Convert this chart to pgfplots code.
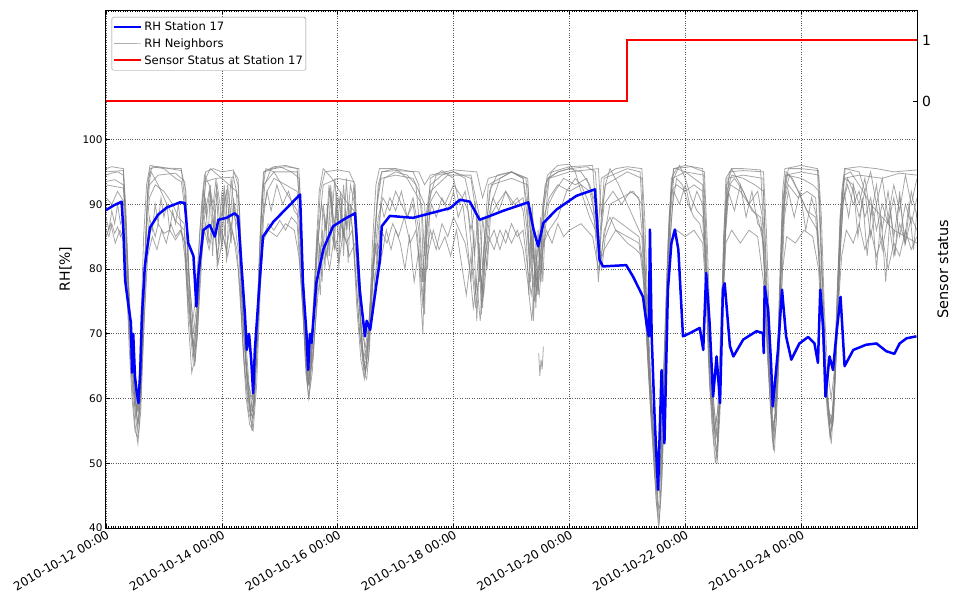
\documentclass[border=0pt]{standalone}
\usepackage{fontspec}
\setmainfont{DejaVu Sans}
\usepackage{pgfplots}
\pgfplotsset{compat=1.18}
\definecolor{nbgray}{RGB}{128,128,128}
\pgfplotsset{neighbor/.style={color=nbgray, draw opacity=0.7, line width=0.8bp, forget plot}}
\begin{document}
\begin{tikzpicture}
\useasboundingbox (-106bp,-71bp) rectangle (848bp,528bp);
\begin{axis}[
 scale only axis, width=811bp, height=518bp,
 xmin=0, xmax=14, ymin=40, ymax=120,
 xtick={0,2,4,6,8,10,12},
 xticklabels={2010-10-12 00:00,2010-10-14 00:00,2010-10-16 00:00,2010-10-18 00:00,2010-10-20 00:00,2010-10-22 00:00,2010-10-24 00:00},
 minor xtick={0,0.0416667,...,14},
 ytick={40,50,60,70,80,90,100},
 ytick pos=left,
 tick align=inside,
 major tick length=4bp, minor tick length=2bp,
 tick style={black, line width=0.6bp},
 axis line style={line width=1bp},
 grid=major, grid style={dotted, black!65, line width=0.6bp},
 xticklabel style={rotate=30, anchor=north east, font=\fontsize{12}{14}\selectfont, inner sep=1bp},
 yticklabel style={font=\fontsize{10.5}{12}\selectfont},
 /pgf/number format/assume math mode=true,
 ylabel={RH[\%]},
 ylabel style={at={(axis description cs:-0.05,0.5)}, anchor=center, font=\fontsize{14}{16}\selectfont},
 legend image code/.code={\draw[#1] (0bp,0bp) -- (23bp,0bp); \path (0bp,0bp) -- (27bp,0bp);},
 legend style={at={(axis description cs:0.007,0.9865)}, anchor=north west, draw=black!45, font=\fontsize{11.6}{14}\selectfont, inner xsep=0.5bp, inner ysep=1.5bp, rounded corners=1.5bp, nodes={inner ysep=3.2bp, inner xsep=2.5bp}},
 legend cell align=left,
]
% Neighbor A
\addplot[neighbor] coordinates {(0,94.5) (0.1,94.8) (0.2,95) (0.3,94.5) (0.35,85) (0.4,72) (0.45,62) (0.5,56) (0.55,53) (0.58,56) (0.62,66) (0.67,80) (0.72,92) (0.76,95.5) (0.9,95.8) (1.1,95.5) (1.3,95.2) (1.38,92) (1.43,80) (1.48,70) (1.53,65) (1.58,70) (1.63,82) (1.68,92) (1.72,95) (1.85,95.5) (2.0,95) (2.2,95.3) (2.28,93) (2.33,82) (2.38,70) (2.45,62) (2.52,55) (2.57,60) (2.63,75) (2.68,90) (2.72,95) (2.9,95.8) (3.1,96) (3.3,95.5) (3.36,88) (3.4,75) (3.45,64) (3.5,60) (3.55,66) (3.62,80) (3.7,92) (3.78,95) (4.0,95.3) (4.2,95) (4.3,93) (4.35,82) (4.4,72) (4.45,64) (4.5,63) (4.55,68) (4.62,82) (4.7,93) (4.76,95) (5.0,95.2) (5.4,95) (5.5,93) (5.6,94.5) (6.0,95.3) (6.4,95) (6.5,91) (6.6,94) (7.0,95) (7.25,94) (7.3,88) (7.4,80) (7.5,85) (7.58,93) (7.7,95) (8.0,95.8) (8.4,96) (8.45,90) (8.5,82) (8.55,88) (8.6,94) (9.0,95.5) (9.22,95) (9.28,85) (9.35,70) (9.42,58) (9.5,44) (9.54,40) (9.58,45) (9.64,60) (9.7,80) (9.76,93) (9.8,95.5) (10.0,96) (10.3,95.5) (10.35,85) (10.4,70) (10.48,58) (10.55,50) (10.6,58) (10.65,80) (10.7,94) (10.8,95.5) (11.0,95.5) (11.3,95.3) (11.36,85) (11.42,70) (11.48,58) (11.52,52) (11.57,60) (11.63,78) (11.68,92) (11.72,95.5) (12.0,96) (12.28,95.5) (12.33,85) (12.4,68) (12.47,58) (12.52,53) (12.57,60) (12.63,78) (12.7,92) (12.75,95.5) (13.0,95.8) (13.3,95.5) (13.6,95) (14.0,95.3)};
% Neighbor B
\addplot[neighbor] coordinates {(0,93.5) (0.15,93.8) (0.3,93) (0.34,88) (0.38,78) (0.44,68) (0.5,60) (0.55,58) (0.6,62) (0.65,75) (0.7,88) (0.75,93) (0.9,94.5) (1.2,94.8) (1.36,93.5) (1.4,85) (1.45,74) (1.52,68) (1.57,72) (1.62,80) (1.67,88) (1.72,93.5) (1.9,94) (2.2,94.2) (2.3,90) (2.35,78) (2.42,66) (2.5,58) (2.55,62) (2.6,70) (2.66,85) (2.72,93) (2.9,95) (3.3,95) (3.34,90) (3.4,80) (3.46,68) (3.52,64) (3.58,72) (3.65,84) (3.75,93) (4.0,94) (4.28,93.5) (4.33,86) (4.4,76) (4.48,66) (4.53,70) (4.6,78) (4.68,90) (4.75,94) (5.0,94.5) (5.3,94) (5.5,90) (5.55,80) (5.6,92) (5.9,94.5) (6.3,94.5) (6.45,88) (6.5,80) (6.55,86) (6.65,93) (7.0,94) (7.28,93) (7.35,85) (7.42,78) (7.5,82) (7.56,90) (7.65,94) (8.0,95) (8.5,95.5) (8.55,88) (8.62,93) (9.0,95) (9.25,94) (9.3,82) (9.38,66) (9.45,55) (9.5,48) (9.55,46) (9.6,52) (9.66,70) (9.72,88) (9.78,94) (10.0,95) (10.32,94.5) (10.37,82) (10.43,66) (10.5,56) (10.55,54) (10.6,62) (10.66,85) (10.72,94) (11.0,94.5) (11.34,94) (11.4,80) (11.46,64) (11.52,55) (11.56,58) (11.62,72) (11.68,90) (11.73,94.5) (12.0,95) (12.3,94.5) (12.36,80) (12.42,65) (12.5,56) (12.55,58) (12.6,70) (12.67,88) (12.74,94) (13.0,94.5) (13.4,94) (13.7,94.8) (14.0,94.5)};
% Neighbor C
\addplot[neighbor] coordinates {(0,86) (0.05,85) (0.1,87) (0.15,85.5) (0.2,86.5) (0.25,85) (0.3,86) (0.34,80) (0.4,70) (0.46,62) (0.52,57) (0.56,60) (0.62,70) (0.68,80) (0.73,85) (0.8,86.5) (0.85,85) (0.9,87) (1.0,85.5) (1.1,86) (1.2,84.5) (1.3,86) (1.36,82) (1.42,74) (1.5,66) (1.55,70) (1.6,78) (1.66,84) (1.72,87) (1.78,84) (1.85,88) (1.92,82) (2.0,86) (2.08,83) (2.15,87) (2.22,84) (2.28,80) (2.34,72) (2.4,64) (2.48,58) (2.54,57) (2.6,66) (2.66,78) (2.72,85) (2.8,87) (2.9,86) (3.0,87.5) (3.1,86) (3.2,88) (3.3,87) (3.35,80) (3.42,70) (3.48,62) (3.54,65) (3.6,74) (3.66,80) (3.72,84) (3.8,82) (3.88,86) (3.95,83) (4.05,87) (4.15,84) (4.25,86) (4.32,78) (4.38,70) (4.44,66) (4.5,68) (4.56,72) (4.62,76) (4.68,82) (4.75,86) (4.85,84) (4.95,87) (5.05,85) (5.15,88) (5.25,84) (5.35,86) (5.42,80) (5.47,74) (5.52,82) (5.6,86) (5.7,83) (5.8,87) (5.9,85) (6.0,88) (6.1,86) (6.2,84) (6.28,80) (6.34,74) (6.4,78) (6.46,72) (6.52,80) (6.6,85) (6.7,83) (6.8,86) (6.9,84) (7.0,87) (7.1,85) (7.2,86) (7.28,80) (7.34,76) (7.4,80) (7.46,77) (7.52,82) (7.6,86) (7.7,84) (7.8,87) (7.9,85) (8.0,86) (8.2,87) (8.4,85) (8.5,80) (8.6,83) (8.8,86) (9.0,85) (9.2,84) (9.28,78) (9.35,66) (9.42,56) (9.5,50) (9.56,52) (9.62,62) (9.7,76) (9.76,84) (9.85,86) (10.0,85) (10.15,86) (10.3,84) (10.36,76) (10.44,62) (10.52,54) (10.58,58) (10.64,72) (10.7,84) (10.8,86) (10.95,84) (11.1,86) (11.25,85) (11.35,78) (11.42,66) (11.5,56) (11.55,57) (11.62,68) (11.68,80) (11.75,85) (11.9,84) (12.05,86) (12.2,85) (12.3,80) (12.38,68) (12.45,60) (12.52,56) (12.58,62) (12.64,74) (12.7,82) (12.78,86) (12.9,84) (13.0,87) (13.1,83) (13.2,86) (13.3,82) (13.4,85) (13.5,80) (13.6,84) (13.7,82) (13.8,86) (13.9,83) (14.0,85)};
% Neighbor D
\addplot[neighbor] coordinates {(0,91) (0.1,90) (0.2,92) (0.3,90.5) (0.34,84) (0.4,74) (0.46,64) (0.5,58) (0.54,55) (0.58,58) (0.64,72) (0.7,86) (0.75,91) (0.85,93) (1.0,92) (1.15,90) (1.25,88) (1.35,87) (1.4,80) (1.46,72) (1.52,67) (1.57,69) (1.63,78) (1.7,88) (1.78,92) (1.85,89) (1.92,93) (2.0,88) (2.08,92) (2.15,86) (2.22,90) (2.3,85) (2.36,74) (2.44,62) (2.5,57) (2.56,60) (2.62,72) (2.7,88) (2.78,92) (2.9,94) (3.1,93) (3.3,92) (3.36,84) (3.42,72) (3.48,63) (3.53,66) (3.6,76) (3.66,84) (3.72,90) (3.8,86) (3.86,92) (3.94,87) (4.02,91) (4.1,85) (4.18,90) (4.26,86) (4.32,78) (4.38,70) (4.44,65) (4.5,66) (4.56,74) (4.62,80) (4.7,88) (4.78,91) (4.9,89) (5.0,92) (5.1,90) (5.2,88) (5.3,91) (5.4,86) (5.46,78) (5.5,84) (5.58,90) (5.7,92) (5.85,90) (6.0,93) (6.15,91) (6.25,89) (6.32,82) (6.38,76) (6.44,84) (6.5,74) (6.55,82) (6.62,88) (6.75,90) (6.9,92) (7.05,90) (7.2,91) (7.27,86) (7.33,78) (7.38,84) (7.44,76) (7.5,82) (7.56,88) (7.65,91) (7.8,93) (8.0,92) (8.2,93) (8.35,92) (8.45,88) (8.52,80) (8.58,84) (8.7,90) (8.9,91) (9.1,92) (9.25,90) (9.3,80) (9.38,64) (9.46,52) (9.52,47) (9.58,50) (9.64,66) (9.7,82) (9.76,92) (9.85,93) (10.0,92) (10.15,93) (10.3,92) (10.35,80) (10.42,64) (10.5,55) (10.56,58) (10.63,76) (10.7,90) (10.78,93) (10.95,92) (11.1,90) (11.25,92) (11.33,88) (11.4,72) (11.47,60) (11.52,54) (11.58,62) (11.64,78) (11.7,90) (11.78,93) (11.95,91) (12.1,92) (12.25,91) (12.32,82) (12.4,66) (12.48,57) (12.54,56) (12.6,66) (12.66,80) (12.72,90) (12.8,93) (12.9,90) (13.0,92) (13.1,88) (13.2,91) (13.3,86) (13.4,90) (13.5,87) (13.6,91) (13.7,85) (13.8,90) (13.9,87) (14.0,91)};
% Neighbor E
\addplot[neighbor] coordinates {(0,93) (0.3,92.5) (0.35,85) (0.42,70) (0.5,60) (0.55,56) (0.6,62) (0.66,78) (0.72,92) (0.78,95) (0.9,93) (1.05,90) (1.2,87.5) (1.35,86) (1.4,78) (1.47,70) (1.54,66) (1.6,74) (1.66,86) (1.72,94) (1.8,95.5) (2.0,94) (2.25,92) (2.3,84) (2.36,72) (2.44,63) (2.52,60) (2.58,64) (2.64,80) (2.7,92) (2.76,95.5) (2.9,95) (3.1,92) (3.3,89) (3.35,82) (3.42,70) (3.5,62) (3.56,68) (3.62,82) (3.68,92) (3.75,95.5) (3.9,94) (4.1,91) (4.28,89) (4.34,80) (4.42,68) (4.48,64) (4.54,70) (4.6,84) (4.66,93) (4.72,95.5) (5.0,95.5) (5.2,94) (5.45,90) (5.5,82) (5.56,90) (5.7,94.5) (6.0,95) (6.3,94) (6.4,88) (6.48,77) (6.54,86) (6.6,93) (7.0,95) (7.28,94) (7.33,84) (7.4,75) (7.47,80) (7.54,90) (7.62,94.5) (7.8,96) (8.0,96.2) (8.1,95) (8.2,92) (8.35,88) (8.45,86) (8.52,82) (8.56,88) (8.62,93) (8.7,95.5) (8.85,93) (9.0,90) (9.15,87) (9.25,85) (9.3,76) (9.38,62) (9.45,54) (9.52,44) (9.56,43) (9.62,55) (9.68,72) (9.74,88) (9.8,94) (9.9,96) (10.0,94) (10.1,91) (10.2,89) (10.3,88) (10.35,78) (10.42,62) (10.5,53) (10.55,51) (10.6,60) (10.66,80) (10.72,93) (10.8,95.5) (10.95,93) (11.1,90) (11.25,88) (11.35,84) (11.4,72) (11.46,60) (11.52,53) (11.57,56) (11.63,72) (11.68,88) (11.74,95) (11.85,94) (12.0,91) (12.15,88) (12.28,86) (12.34,76) (12.42,62) (12.5,54) (12.56,57) (12.62,70) (12.68,86) (12.74,94.5) (12.85,95) (13.0,93) (13.2,90) (13.4,88) (13.6,86) (13.8,85) (14.0,84)};
% Neighbor F
\addplot[neighbor] coordinates {(0,95) (0.3,95.2) (0.34,90) (0.38,80) (0.43,70) (0.48,64) (0.53,58) (0.57,62) (0.61,74) (0.65,85) (0.7,93) (0.76,96) (1.0,95.6) (1.3,95.5) (1.37,90) (1.42,80) (1.47,75) (1.51,70) (1.56,74) (1.6,82) (1.65,90) (1.7,94.5) (1.78,93) (1.85,90) (1.9,94) (1.95,84) (2.0,92) (2.05,85) (2.1,93) (2.15,88) (2.2,95) (2.28,94) (2.32,86) (2.37,76) (2.42,68) (2.47,62) (2.53,58) (2.58,66) (2.63,78) (2.68,88) (2.73,95) (2.9,95.5) (3.1,95.8) (3.33,95.5) (3.37,86) (3.42,76) (3.46,66) (3.5,62) (3.55,70) (3.6,78) (3.65,86) (3.7,82) (3.75,90) (3.8,86) (3.85,93) (3.9,88) (3.95,94) (4.0,87) (4.05,92) (4.1,85) (4.15,94) (4.2,86) (4.28,93) (4.33,84) (4.38,74) (4.43,68) (4.48,64) (4.53,70) (4.58,78) (4.64,86) (4.7,92) (4.76,95) (5.0,95.5) (5.3,95) (5.4,93) (5.45,88) (5.5,73) (5.53,85) (5.6,94) (5.8,95.2) (6.0,94) (6.1,90) (6.2,92) (6.3,86) (6.38,90) (6.45,78) (6.5,88) (6.55,84) (6.62,92) (6.75,94.5) (7.0,95) (7.2,94) (7.27,88) (7.32,80) (7.37,86) (7.42,74) (7.47,84) (7.52,80) (7.58,88) (7.65,94) (7.8,95) (8.0,95.5) (8.3,95.8) (8.45,95) (8.5,86) (8.55,94) (8.8,95.5) (9.0,95.8) (9.25,95.5) (9.3,88) (9.36,72) (9.42,60) (9.48,50) (9.53,42) (9.57,48) (9.62,62) (9.68,78) (9.74,90) (9.8,95.5) (10.1,95.8) (10.33,95) (10.38,84) (10.44,68) (10.5,58) (10.56,53) (10.6,62) (10.65,76) (10.7,88) (10.76,95) (11.0,95.2) (11.35,95) (11.4,86) (11.45,72) (11.5,62) (11.55,58) (11.6,64) (11.66,80) (11.72,92) (11.78,95.5) (12.0,95.5) (12.3,95.2) (12.35,88) (12.4,74) (12.46,64) (12.52,60) (12.57,64) (12.63,78) (12.7,90) (12.76,95.5) (13.0,95) (13.1,92) (13.2,95) (13.3,90) (13.4,94) (13.5,88) (13.6,93) (13.7,89) (13.8,94.5) (13.9,90) (14.0,94)};
% Neighbor G
\addplot[neighbor] coordinates {(0,85) (0.08,87) (0.16,84) (0.24,86) (0.32,84) (0.37,76) (0.44,66) (0.5,60) (0.55,56) (0.6,60) (0.66,72) (0.72,82) (0.8,85) (0.88,83) (0.96,86) (1.04,84) (1.12,87) (1.2,85) (1.28,86) (1.36,84) (1.42,76) (1.5,68) (1.56,72) (1.62,80) (1.7,86) (1.78,83) (1.86,87) (1.94,81) (2.02,85) (2.1,82) (2.18,86) (2.26,83) (2.32,76) (2.38,66) (2.46,58) (2.52,56) (2.58,64) (2.64,76) (2.7,84) (2.8,86) (2.95,85) (3.1,87) (3.25,86) (3.33,82) (3.4,74) (3.46,65) (3.52,62) (3.58,68) (3.64,74) (3.7,80) (3.78,84) (3.86,80) (3.94,85) (4.02,81) (4.1,86) (4.2,82) (4.3,84) (4.36,76) (4.42,70) (4.48,68) (4.54,72) (4.6,80) (4.68,84) (4.76,82) (4.84,86) (4.92,83) (5.0,86) (5.08,84) (5.16,80) (5.24,85) (5.32,78) (5.4,83) (5.48,75) (5.55,82) (5.65,86) (5.75,83) (5.85,85) (5.95,82) (6.05,86) (6.15,80) (6.22,76) (6.3,82) (6.38,74) (6.45,80) (6.52,76) (6.6,84) (6.7,86) (6.8,83) (6.9,86) (7.0,84) (7.1,86) (7.2,83) (7.28,78) (7.35,72) (7.42,80) (7.48,76) (7.55,84) (7.65,86) (7.8,88) (7.95,92) (8.1,94) (8.2,93) (8.3,91) (8.42,88) (8.5,84) (8.56,80) (8.62,85) (8.75,88) (8.9,87) (9.05,86) (9.2,85) (9.28,80) (9.36,68) (9.44,56) (9.5,50) (9.55,48) (9.6,54) (9.66,68) (9.72,82) (9.78,90) (9.85,94) (9.95,93) (10.05,90) (10.15,88) (10.25,87) (10.33,84) (10.4,72) (10.48,60) (10.53,56) (10.58,60) (10.64,74) (10.7,86) (10.76,93) (10.85,94) (11.0,92) (11.15,89) (11.3,88) (11.37,80) (11.44,66) (11.5,58) (11.55,60) (11.61,70) (11.67,84) (11.73,92) (11.8,94.5) (11.95,92) (12.1,89) (12.25,88) (12.32,80) (12.4,68) (12.47,58) (12.53,57) (12.6,66) (12.66,80) (12.72,90) (12.8,94) (12.9,92) (13.0,88) (13.1,92) (13.2,85) (13.3,90) (13.4,83) (13.5,88) (13.6,82) (13.7,87) (13.8,84) (13.9,88) (14.0,86)};
% Neighbor H
\addplot[neighbor] coordinates {(0,88) (0.05,86) (0.1,89) (0.15,87) (0.2,90) (0.25,87) (0.3,88) (0.35,80) (0.4,68) (0.45,60) (0.5,55) (0.55,54) (0.6,58) (0.65,70) (0.7,82) (0.75,88) (0.8,86) (0.85,90) (0.9,87) (0.95,91) (1.0,88) (1.05,90) (1.1,86) (1.15,89) (1.2,87) (1.25,90) (1.3,86) (1.36,84) (1.42,72) (1.48,64) (1.53,66) (1.6,76) (1.66,86) (1.72,91) (1.76,84) (1.8,92) (1.84,82) (1.88,90) (1.92,80) (1.96,88) (2.0,83) (2.04,92) (2.08,81) (2.12,89) (2.16,84) (2.2,91) (2.25,85) (2.3,82) (2.35,70) (2.42,60) (2.48,56) (2.54,55) (2.6,62) (2.66,76) (2.72,88) (2.78,92) (2.85,89) (2.95,93) (3.05,90) (3.15,92) (3.25,89) (3.33,88) (3.38,78) (3.44,66) (3.5,60) (3.56,64) (3.62,72) (3.66,80) (3.7,76) (3.74,86) (3.78,80) (3.82,90) (3.86,82) (3.9,92) (3.94,83) (3.98,90) (4.02,80) (4.06,91) (4.1,82) (4.14,89) (4.18,81) (4.22,90) (4.27,84) (4.33,74) (4.4,66) (4.46,63) (4.52,67) (4.58,74) (4.62,80) (4.66,76) (4.7,86) (4.75,90) (4.8,88) (4.9,91) (5.0,89) (5.1,92) (5.2,88) (5.3,90) (5.38,85) (5.43,76) (5.47,70) (5.5,80) (5.55,86) (5.62,90) (5.7,88) (5.8,91) (5.9,89) (6.0,92) (6.08,88) (6.16,90) (6.24,84) (6.3,78) (6.35,86) (6.4,72) (6.45,82) (6.5,75) (6.55,84) (6.6,88) (6.68,91) (6.78,89) (6.9,92) (7.0,90) (7.1,91) (7.2,89) (7.26,84) (7.3,76) (7.34,86) (7.38,72) (7.42,84) (7.46,76) (7.5,88) (7.54,78) (7.58,86) (7.64,90) (7.75,92) (7.9,94) (8.1,93) (8.3,94) (8.4,91) (8.46,84) (8.5,78) (8.55,86) (8.6,90) (8.75,92) (8.9,90) (9.05,92) (9.2,91) (9.27,84) (9.34,70) (9.4,60) (9.46,50) (9.5,44) (9.55,41) (9.6,48) (9.65,62) (9.7,76) (9.75,86) (9.8,92) (9.9,90) (10.0,93) (10.1,89) (10.2,92) (10.3,90) (10.35,82) (10.4,66) (10.46,56) (10.52,50) (10.57,55) (10.62,68) (10.68,84) (10.74,92) (10.85,89) (10.95,93) (11.05,88) (11.15,92) (11.25,87) (11.33,86) (11.39,74) (11.45,62) (11.5,54) (11.54,52) (11.6,62) (11.66,76) (11.71,88) (11.78,92) (11.88,88) (11.98,92) (12.08,86) (12.18,91) (12.27,88) (12.33,78) (12.39,66) (12.45,58) (12.5,54) (12.56,58) (12.62,70) (12.68,84) (12.74,92) (12.82,88) (12.9,93) (12.98,85) (13.06,91) (13.14,82) (13.22,90) (13.3,80) (13.38,88) (13.46,78) (13.54,89) (13.62,82) (13.7,92) (13.78,84) (13.86,90) (13.94,83) (14.0,89)};
% Neighbor I
\addplot[neighbor] coordinates {(0,95.5) (0.1,95.8) (0.3,95.5) (0.34,88) (0.4,76) (0.46,66) (0.52,60) (0.57,58) (0.63,68) (0.68,84) (0.73,94) (0.8,95.8) (1.0,95.5) (1.2,94) (1.3,93.5) (1.38,88) (1.44,78) (1.5,72) (1.55,76) (1.62,86) (1.68,92) (1.74,88) (1.8,93) (1.86,86) (1.92,92) (1.98,85) (2.04,93) (2.1,87) (2.16,94) (2.22,88) (2.29,86) (2.35,74) (2.42,64) (2.5,58) (2.56,59) (2.62,70) (2.68,84) (2.74,93) (2.85,95.5) (3.0,95.8) (3.2,95) (3.34,94) (3.39,82) (3.45,70) (3.51,64) (3.57,66) (3.63,74) (3.68,84) (3.73,78) (3.78,88) (3.83,82) (3.88,93) (3.93,84) (3.98,92) (4.04,84) (4.1,93) (4.16,86) (4.22,93) (4.29,90) (4.34,80) (4.4,70) (4.47,64) (4.53,66) (4.59,76) (4.65,84) (4.7,80) (4.74,90) (4.8,94) (5.0,95) (5.2,94.5) (5.35,93) (5.42,86) (5.47,78) (5.52,88) (5.6,93) (5.8,94.5) (6.0,95) (6.2,94) (6.3,90) (6.36,82) (6.42,88) (6.48,73) (6.53,84) (6.58,80) (6.65,90) (6.8,94) (7.0,95) (7.2,94) (7.27,90) (7.31,82) (7.36,90) (7.41,77) (7.46,86) (7.51,78) (7.56,90) (7.62,94) (7.8,95) (8.0,95.5) (8.2,95) (8.35,93) (8.45,90) (8.5,84) (8.55,82) (8.6,86) (8.7,88) (8.8,86) (8.9,85) (9.0,84) (9.15,83) (9.25,82) (9.32,72) (9.4,58) (9.47,48) (9.52,45) (9.58,52) (9.64,68) (9.7,84) (9.76,94) (9.85,95.5) (10.0,95) (10.15,94) (10.3,93) (10.36,80) (10.43,62) (10.5,54) (10.55,52) (10.6,60) (10.66,78) (10.72,92) (10.8,94.5) (11.0,94) (11.2,93) (11.35,92) (11.4,78) (11.46,62) (11.51,55) (11.56,58) (11.62,74) (11.68,90) (11.75,94.5) (12.0,94) (12.2,93) (12.31,92) (12.37,78) (12.44,62) (12.5,55) (12.55,56) (12.62,72) (12.68,88) (12.75,94) (12.9,93) (13.0,90) (13.1,94) (13.2,88) (13.3,93) (13.4,86) (13.5,92) (13.6,85) (13.7,91) (13.8,84) (13.9,92) (14.0,88)};
% isolated fragment
\addplot[neighbor] coordinates {(7.47,67) (7.49,63.5) (7.51,66) (7.53,64.5) (7.55,68)};
% Station 17
\addplot[blue, line width=2.5bp, line join=round, forget plot] coordinates {(0,89.1) (0.13,89.8) (0.27,90.4) (0.3,86) (0.33,78.3) (0.38,74.8) (0.43,71.7) (0.45,64) (0.47,70) (0.5,63.4) (0.53,61) (0.56,59.3) (0.59,64) (0.62,72.7) (0.67,80.4) (0.76,86.4) (0.9,88.4) (1.05,89.5) (1.28,90.3) (1.36,90.2) (1.42,84) (1.51,82) (1.56,74.2) (1.59,78.8) (1.68,86) (1.79,86.8) (1.88,85) (1.94,87.6) (2.08,87.9) (2.22,88.6) (2.28,88.1) (2.34,80.4) (2.40,72.7) (2.43,67.5) (2.47,70) (2.51,65.5) (2.54,60.8) (2.57,67.5) (2.63,75.2) (2.71,85) (2.89,87.3) (3.12,89.4) (3.35,91.5) (3.40,77.8) (3.46,70.1) (3.49,64.4) (3.52,70) (3.55,68.6) (3.63,77.8) (3.75,83) (3.92,86.6) (4.15,87.9) (4.30,88.6) (4.38,76.8) (4.47,69.6) (4.5,72) (4.56,70.6) (4.67,77.8) (4.73,81.4) (4.76,86.6) (4.90,88.2) (5.30,87.9) (5.94,89.4) (6.11,90.7) (6.28,90.4) (6.45,87.6) (6.63,88.2) (6.86,89.0) (7.29,90.3) (7.38,86.1) (7.46,83.5) (7.55,87.1) (7.78,89.2) (8.12,91.3) (8.44,92.3) (8.52,81.4) (8.58,80.4) (8.98,80.6) (9.10,78.8) (9.21,76.8) (9.27,75.7) (9.33,71.6) (9.37,69.6) (9.39,86.1) (9.42,69.6) (9.47,57.2) (9.53,45.9) (9.59,64.4) (9.64,53.1) (9.70,76.8) (9.76,84) (9.82,86.1) (9.88,83) (9.96,69.6) (10.08,70.1) (10.25,70.9) (10.31,67.5) (10.36,79.4) (10.42,71.6) (10.48,60.3) (10.54,66.5) (10.60,59.3) (10.65,76.8) (10.68,77.8) (10.77,68.1) (10.83,66.5) (11.00,69.1) (11.23,70.4) (11.34,70.1) (11.355,67) (11.37,77.3) (11.43,73.7) (11.48,65.5) (11.51,58.8) (11.60,67.5) (11.67,76.8) (11.74,69.6) (11.83,66) (11.97,68.5) (12.12,69.5) (12.23,68.5) (12.29,65.5) (12.33,76.8) (12.38,71.1) (12.42,60.3) (12.49,66.5) (12.55,64.4) (12.61,70.1) (12.68,75.7) (12.75,65) (12.90,67.5) (13.12,68.3) (13.30,68.5) (13.47,67.3) (13.61,66.9) (13.70,68.5) (13.82,69.3) (13.99,69.6)};
\addlegendimage{blue, line width=2.5bp}
\addlegendentry{RH Station 17}
\addlegendimage{nbgray, draw opacity=0.4, line width=0.8bp}
\addlegendentry{RH Neighbors}
\addlegendimage{red, line width=2bp}
\addlegendentry{Sensor Status at Station 17}
\end{axis}
\begin{axis}[
 scale only axis, width=811bp, height=518bp,
 xmin=0, xmax=14, ymin=-7.04, ymax=1.5,
 axis y line*=right, axis x line=none,
 ytick={0,1},
 tick align=inside, major tick length=4bp,
 tick style={black, line width=0.6bp},
 axis line style={line width=1bp},
 yticklabel style={font=\fontsize{14}{16}\selectfont, xshift=1.5bp},
 /pgf/number format/assume math mode=true,
 ylabel={Sensor status},
 ylabel style={at={(axis description cs:1.032,0.5)}, anchor=center, font=\fontsize{14.5}{16}\selectfont},
]
\addplot[red, line width=2bp, const plot] coordinates {(0,0) (9,1) (14,1)};
\end{axis}
\end{tikzpicture}
\end{document}
